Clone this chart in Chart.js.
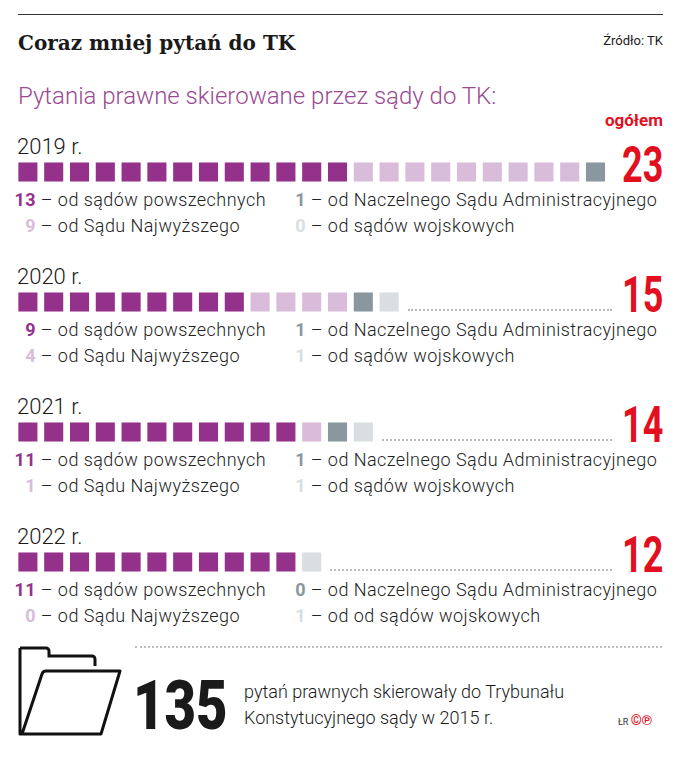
<!DOCTYPE html>
<html><head><meta charset="utf-8">
<script src="https://cdn.jsdelivr.net/npm/chart.js@4.4.1/dist/chart.umd.min.js"></script>
<style>
body{margin:0;width:695px;height:760px;background:#fff;position:relative;font-family:Roboto,sans-serif;color:#1a1a1a;overflow:hidden}
.a{position:absolute;white-space:nowrap;line-height:1}
.big{font-weight:bold;color:#e2101f;font-size:50px;line-height:36px;right:32px;transform:scaleX(0.72);transform-origin:right center}
.lg{font-size:18px;font-weight:300;color:#222;letter-spacing:0.45px}
.n{font-weight:bold;display:inline-block;text-align:right}
.dot{position:absolute;border-bottom:2px dotted #bbb;height:0}
</style></head><body>
<div style="position:absolute;left:18px;top:14px;width:645px;border-top:1px solid #333"></div>
<div class="a" style="left:18px;top:33px;font-family:'DejaVu Serif',serif;font-weight:bold;font-size:20px">Coraz mniej pytań do TK</div>
<div class="a" style="right:32px;top:34px;font-size:13px">Źródło: TK</div>
<div class="a" style="left:18px;top:84px;font-size:24px;font-weight:300;color:#9a4a90">Pytania prawne skierowane przez sądy do TK:</div>
<div class="a" style="right:32px;top:112px;font-size:17px;font-weight:bold;color:#e2101f">ogółem</div>
<div id="rows"></div>
<div class="dot" style="left:135px;top:646px;width:527px"></div>
<svg style="position:absolute;left:18px;top:646px" width="104" height="92" viewBox="0 0 104 92">
<path d="M2 2 H28 a3 3 0 0 1 3 3 V10 H74 a3 3 0 0 1 3 3 V20" fill="none" stroke="#111" stroke-width="3"/>
<path d="M2 2 V88 H83 L102 25 H28 Q25 25 24 28 L4 88" fill="none" stroke="#111" stroke-width="3" stroke-linejoin="round"/>
</svg>
<div class="a" style="left:133px;top:672px;font-size:68px;font-weight:900;transform:scaleX(0.8);transform-origin:left center">135</div>
<div class="a" style="left:244px;top:683px;font-size:18px;font-weight:300">pytań prawnych skierowały do Trybunału</div>
<div class="a" style="left:244px;top:709px;font-size:18px;font-weight:300">Konstytucyjnego sądy w 2015 r.</div>
<div class="a" style="left:618px;top:713px;font-size:9px;color:#333">ŁR <span style="color:#e2101f;font-size:14px;font-weight:bold">©℗</span></div>
<script>
const years=["2019 r.","2020 r.","2021 r.","2022 r."];
const powszechne=[13,9,11,11];
const najwyzszy=[9,4,1,0];
const nsa=[1,1,1,0];
const wojskowe=[0,1,1,1];
const totals=[23,15,14,12];
const labelsCat=["od sądów powszechnych","od Sądu Najwyższego","od Naczelnego Sądu Administracyjnego","od sądów wojskowych"];
const colors=["#94318a","#d8bcd9","#8b979e","#d9dee1"];
const rowTop=[136,266,396,526];
const pitch=25.8, slots=23, x0=27.5;
const rows=document.getElementById('rows');
years.forEach((y,i)=>{
  const t=rowTop[i];
  const counts=[powszechne[i],najwyzszy[i],nsa[i],wojskowe[i]];
  let h=`<div class="a" style="left:17px;top:${t}px;font-size:22px;font-weight:300">${y}</div>`;
  const used=totals[i];
  if(used<slots) h+=`<div class="dot" style="left:${x0+(used-0.5)*pitch+6}px;top:${t+43}px;width:${612-(x0+(used-0.5)*pitch+6)}px"></div>`;
  h+=`<div class="a big" style="top:${t+11}px">${totals[i]}</div>`;
  const lab=(k,left,top)=>`<div class="a lg" style="left:${left}px;top:${top}px"><span class="n" style="color:${colors[k]};width:22px">${counts[k]}</span> – ${i==3&&k==3?'od ':''}${labelsCat[k]}</div>`;
  h+=lab(0,14,t+55)+lab(1,14,t+81)+lab(2,284,t+55)+lab(3,284,t+81);
  h+=`<div style="position:absolute;left:${x0-pitch/2}px;top:${t+24}px;width:${slots*pitch}px;height:24px"><canvas id="c${i}"></canvas></div>`;
  rows.insertAdjacentHTML('beforeend',h);
});
const slotLabels=Array.from({length:slots},(_,j)=>String(j));
years.forEach((y,i)=>{
  const counts=[powszechne[i],najwyzszy[i],nsa[i],wojskowe[i]];
  const datasets=[];let idx=0;
  counts.forEach((c,k)=>{
    const d=new Array(slots).fill(null);
    for(let j=0;j<c;j++)d[idx++]=[-1,1];
    datasets.push({label:labelsCat[k],data:d,backgroundColor:colors[k],borderWidth:0,grouped:false,categoryPercentage:1,barPercentage:0.74});
  });
  new Chart(document.getElementById('c'+i),{type:'bar',data:{labels:slotLabels,datasets},options:{responsive:true,maintainAspectRatio:false,animation:false,layout:{padding:0},
    plugins:{legend:{display:false},tooltip:{enabled:false}},
    scales:{x:{display:false},y:{display:false,min:-1.26,max:1.26}}}});
});
</script>
</body></html>
